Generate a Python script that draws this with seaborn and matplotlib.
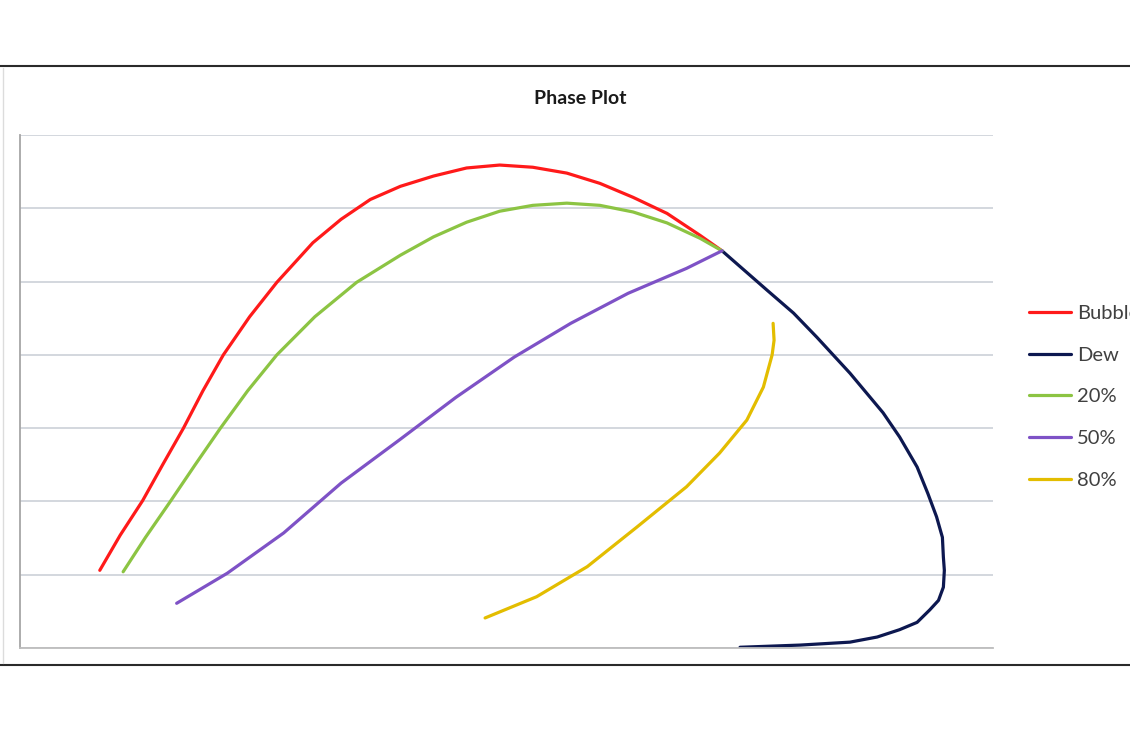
import matplotlib
matplotlib.use("Agg")
import matplotlib.pyplot as plt
from matplotlib.lines import Line2D
import seaborn as sns

# values (x: 0-100, y: 0-7 gridlines)
bubble_x = [8.2, 10.3, 12.6, 14.7, 16.8, 18.8, 20.9, 23.6, 26.4, 30.1, 33.0, 36.0,
            39.1, 42.5, 45.9, 49.3, 52.7, 56.2, 59.6, 63.0, 66.5, 69.9, 72.15]
bubble_y = [1.06, 1.54, 2.01, 2.51, 3.0, 3.51, 4.0, 4.52, 4.99, 5.53, 5.85, 6.12,
            6.30, 6.44, 6.55, 6.59, 6.56, 6.48, 6.34, 6.15, 5.93, 5.63, 5.42]

dew_x = [72.15, 76.8, 79.5, 81.9, 85.3, 88.7, 90.4, 92.2, 93.3, 94.2, 94.8, 94.9,
         95.0, 94.9, 94.4, 93.5, 92.2, 90.4, 88.1, 85.3, 80.2, 74.0]
dew_y = [5.42, 4.88, 4.57, 4.24, 3.75, 3.21, 2.88, 2.47, 2.11, 1.79, 1.51, 1.24,
         1.06, 0.83, 0.65, 0.52, 0.35, 0.25, 0.15, 0.08, 0.04, 0.01]

pct20_x = [10.6, 12.9, 15.4, 18.0, 20.6, 23.4, 26.4, 30.3, 34.6, 39.1, 42.5, 45.9,
           49.3, 52.7, 56.2, 59.6, 63.0, 66.5, 69.9, 72.15]
pct20_y = [1.04, 1.51, 1.99, 2.50, 3.0, 3.51, 4.0, 4.52, 4.99, 5.36, 5.61, 5.81,
           5.96, 6.04, 6.07, 6.04, 5.95, 5.80, 5.59, 5.42]

pct50_x = [16.1, 21.3, 27.1, 33.0, 39.0, 44.8, 50.8, 56.6, 62.5, 68.5, 72.15]
pct50_y = [0.61, 1.02, 1.57, 2.25, 2.84, 3.42, 3.97, 4.43, 4.84, 5.18, 5.42]

pct80_x = [47.8, 53.1, 58.3, 63.4, 68.5, 71.9, 74.7, 76.4, 77.3, 77.5, 77.4]
pct80_y = [0.41, 0.70, 1.11, 1.65, 2.20, 2.66, 3.11, 3.56, 4.0, 4.2, 4.43]

series = [
    ("Bubble", bubble_x, bubble_y, "#ff1a1a"),
    ("Dew", dew_x, dew_y, "#0d1850"),
    ("20%", pct20_x, pct20_y, "#8cc443"),
    ("50%", pct50_x, pct50_y, "#7e52c6"),
    ("80%", pct80_x, pct80_y, "#e3bd00"),
]

sns.set_theme(style="white")
plt.rcParams["font.family"] = ["Lato", "DejaVu Sans"]

fig = plt.figure(figsize=(11.3, 7.3), dpi=100)
ax = fig.add_axes([20 / 1130, 82 / 730, 973 / 1130, 513 / 730])

for name, xs, ys, col in series:
    sns.lineplot(x=xs, y=ys, sort=False, ax=ax, color=col, linewidth=2.3,
                 label=name, estimator=None)

ax.set_xlim(0, 100)
ax.set_ylim(0, 7)
ax.set_yticks(range(0, 8))
ax.set_xticks([])
ax.set_yticklabels([])
ax.tick_params(length=0)
ax.grid(axis="y", color="#c8cdd5", linewidth=1.1)
for s in ["top", "right"]:
    ax.spines[s].set_visible(False)
ax.spines["left"].set_color("#a6a6a6")
ax.spines["left"].set_linewidth(1.3)
ax.spines["bottom"].set_color("#bdbdbd")
ax.spines["bottom"].set_linewidth(1.3)
ax.set_xlabel("")
ax.set_ylabel("")

leg = ax.legend(loc="upper left", bbox_to_anchor=(1021 / 1130, 1 - 297 / 730),
                bbox_transform=fig.transFigure, frameon=False, fontsize=14.5,
                handlelength=2.1, handletextpad=0.3, labelspacing=1.22,
                borderaxespad=0)
for t in leg.get_texts():
    t.set_color("#404040")
for h in leg.get_lines():
    h.set_linewidth(2.3)

fig.text(580 / 1130, 1 - 98 / 730, "Phase Plot", ha="center", va="center",
         fontsize=14, fontweight="bold", color="#1a1a1a")

# screenshot frame lines
fig.add_artist(Line2D([0, 1], [1 - 66 / 730, 1 - 66 / 730], color="#2a2a2a",
                      linewidth=1.5, transform=fig.transFigure))
fig.add_artist(Line2D([0, 1], [1 - 665 / 730, 1 - 665 / 730], color="#2a2a2a",
                      linewidth=1.5, transform=fig.transFigure))
fig.add_artist(Line2D([3 / 1130, 3 / 1130], [1 - 68 / 730, 1 - 663 / 730],
                      color="#dcdcdc", linewidth=1.0, transform=fig.transFigure))

fig.savefig("out.png", dpi=100, facecolor="white")
